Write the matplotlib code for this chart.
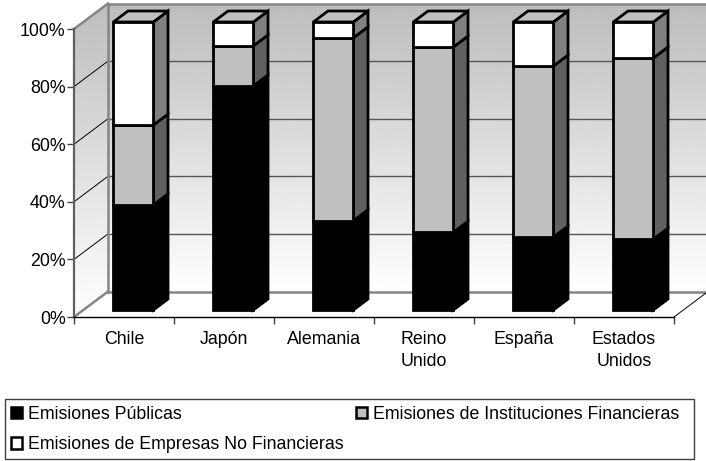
import numpy as np
import matplotlib
matplotlib.use("Agg")
import matplotlib.pyplot as plt
from matplotlib.patches import Patch, Polygon, Rectangle

plt.rcParams['font.family'] = ['Liberation Sans', 'DejaVu Sans']

# Data
categories = ["Chile", "Japón", "Alemania", "Reino\nUnido", "España", "Estados\nUnidos"]
publicas = [36.5, 77.8, 31.0, 27.0, 25.3, 24.6]
financieras = [27.7, 13.9, 63.5, 64.3, 59.4, 62.9]
no_financieras = [35.8, 8.3, 5.5, 8.7, 15.3, 12.5]
series_names = ["Emisiones Públicas", "Emisiones de Instituciones Financieras",
                "Emisiones de Empresas No Financieras"]
y_ticks = [0, 20, 40, 60, 80, 100]

W, H = 706, 461
FS = 12.8

# depth projection, data units for depth=1 (back wall)
DX = 0.34
DY = 8.85
D0, D1 = 0.275, 0.706  # bar front and back depth
BAR_W = 0.40


def pr(x, y, d):
    return (x + d * DX, y + d * DY)


fig = plt.figure(figsize=(W / 100, H / 100), dpi=100)
ax = fig.add_axes([74 / W, 1 - 317 / H, 600 / W, 288 / H])
ax.set_xlim(0, 6)
ax.set_ylim(0, 100)

# walls with gradient
grad = np.linspace(1, 0.74, 256).reshape(-1, 1)
back_img = ax.imshow(grad, cmap="gray", vmin=0, vmax=1, aspect="auto", origin="lower",
                     extent=(DX, 6 + DX, DY, 100 + DY), zorder=0, clip_on=False)
left_img = ax.imshow(grad, cmap="gray", vmin=0, vmax=1, aspect="auto", origin="lower",
                     extent=(0, DX, 0, 100 + DY), zorder=0)
left_wall = Polygon([pr(0, 0, 0), pr(0, 0, 1), pr(0, 100, 1), pr(0, 100, 0)],
                    transform=ax.transData, fc="none", ec="none")
ax.add_patch(left_wall)
left_img.set_clip_path(left_wall)
left_img.set_clip_box(fig.bbox)
ax.set_xlim(0, 6)
ax.set_ylim(0, 100)

# gridlines, on the left wall and along the back wall
for v in y_ticks[1:-1]:
    x0, y0 = pr(0, v, 0)
    x1, y1 = pr(0, v, 1)
    ax.plot([x0, x1], [y0, y1], color="black", lw=0.7, zorder=1, clip_on=False)
    ax.plot([x1, 6 + DX], [y1, y1], color="#555555", lw=1.0, zorder=1, clip_on=False)

# wall borders
wall_c = "#858585"
ax.plot([DX, DX], [DY, 100 + DY], color=wall_c, lw=1.8, zorder=1, clip_on=False)
ax.plot([DX, 6 + DX], [100 + DY, 100 + DY], color=wall_c, lw=1.8, zorder=1, clip_on=False)
ax.plot([DX, 6 + DX], [DY, DY], color=wall_c, lw=1.8, zorder=1, clip_on=False)
ax.plot([0, DX], [100, 100 + DY], color=wall_c, lw=1.8, zorder=1, clip_on=False)
ax.plot([0, DX], [0, DY], color=wall_c, lw=1.8, zorder=1, clip_on=False)
ax.plot([6, 6 + DX * 0.94], [0, DY * 0.94], color="black", lw=0.7, zorder=1, clip_on=False)


def draw_segment(i, bottom, height, front, side, top_face=None):
    xl = i + 0.5 - BAR_W / 2
    xr = xl + BAR_W
    yb, yt = bottom, bottom + height
    kw = dict(ec="black", lw=2.0, joinstyle="miter", clip_on=False, zorder=3)
    ax.add_patch(Polygon([pr(xr, yb, D0), pr(xr, yb, D1), pr(xr, yt, D1), pr(xr, yt, D0)],
                         fc=side, **kw))
    if top_face is not None:
        ax.add_patch(Polygon([pr(xl, yt, D0), pr(xr, yt, D0), pr(xr, yt, D1), pr(xl, yt, D1)],
                             fc=top_face, **kw))
    ax.add_patch(Polygon([pr(xl, yb, D0), pr(xr, yb, D0), pr(xr, yt, D0), pr(xl, yt, D0)],
                         fc=front, **kw))


for i in range(len(categories)):
    draw_segment(i, 0, publicas[i], "black", "black")
    draw_segment(i, publicas[i], financieras[i], "#c0c0c0", "#606060")
    draw_segment(i, publicas[i] + financieras[i], no_financieras[i], "white", "#808080", "#c0c0c0")

# axes
for s in ["top", "right"]:
    ax.spines[s].set_visible(False)
ax.spines["left"].set_color("#606060")
ax.spines["left"].set_linewidth(1.6)
ax.spines["bottom"].set_color("black")
ax.spines["bottom"].set_linewidth(1.0)
ax.spines["left"].set_zorder(2)
ax.spines["bottom"].set_zorder(2)

ax.set_yticks(y_ticks)
ax.set_yticklabels([f"{v}%" for v in y_ticks], fontsize=FS, color="black")
ax.tick_params(axis="y", length=5, width=1, color="#404040", pad=1)
ax.set_xticks(range(len(categories) + 1))
ax.set_xticklabels([])
ax.tick_params(axis="x", which="major", length=5, width=1, color="#404040")
ax.set_xticks(np.arange(len(categories)) + 0.5, minor=True)
ax.set_xticklabels(categories, minor=True, fontsize=FS, linespacing=1.42)
ax.tick_params(axis="x", which="minor", length=0, pad=10)

# legend, frame drawn by hand so the columns can sit where they do in the picture
fig.add_artist(Rectangle((5 / W, 1 - 459 / H), 689 / W, 60 / H, transform=fig.transFigure,
                         fc="white", ec="#404040", lw=1.0))
handles = [Patch(fc="black", ec="black", lw=1.8),
           Patch(fc="white", ec="black", lw=1.8),
           Patch(fc="#c0c0c0", ec="black", lw=1.8)]
labels = [series_names[0], series_names[2], series_names[1]]
leg = fig.legend(handles, labels, ncols=2, loc="lower left",
                 bbox_to_anchor=(11 / W, 1 - 453 / H),
                 fontsize=FS, frameon=False, handlelength=0.62, handleheight=0.62,
                 handletextpad=0.36, labelspacing=0.74, columnspacing=0.65,
                 borderpad=0, borderaxespad=0)

fig.savefig("out.png", dpi=100)
